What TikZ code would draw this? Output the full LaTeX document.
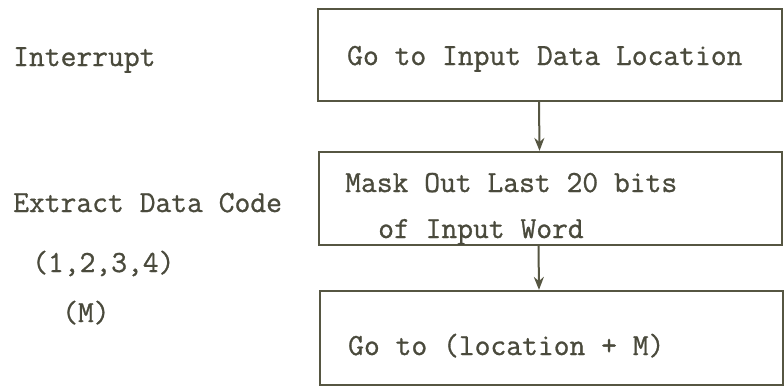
\documentclass[tikz,border=0pt]{standalone}
\usepackage{fontspec}
\setmonofont{Latin Modern Mono}[FakeBold=0.9]
\usetikzlibrary{arrows.meta}
\definecolor{ink}{RGB}{74,74,60}
\definecolor{rule}{RGB}{86,86,66}
\tikzset{
  txt/.style={anchor=base west, inner sep=0pt, text=ink, font=\ttfamily\fontsize{30.7}{34}\selectfont},
  box/.style={draw=rule, line width=2.2pt, rectangle, inner sep=0pt},
  flow/.style={draw=rule, line width=2pt, -{Stealth[length=13pt,width=10pt]}}
}
\begin{document}
\begin{tikzpicture}[x=1pt,y=-1pt]
  \useasboundingbox (0,0) rectangle (784,386);

  % left-hand annotations
  \node[txt] (int) at (13,66) {Interrupt};
  \node[txt] (ext) at (13,212) {Extract Data Code};
  \node[txt] (codes) at (32,272) {(1,2,3,4)};
  \node[txt] (m) at (62,322) {(M)};

  % flow boxes
  \node[box, minimum width=464pt, minimum height=92pt] (b1) at (550,55) {};
  \node[box, minimum width=463pt, minimum height=93pt] (b2) at (550.5,198.5) {};
  \node[box, minimum width=463pt, minimum height=94pt] (b3) at (551.5,338) {};

  % box texts
  \node[txt] (t1) at (347,65) {Go to Input Data Location};
  \node[txt] (t2a) at (345,192) {Mask Out Last 20 bits};
  \node[txt] (t2b) at (378,238) {of Input Word};
  \node[txt] (t3) at (348,355) {Go to (location + M)};

  % connectors
  \draw[flow] ([xshift=-11pt]b1.south) -- ([xshift=-11pt]b2.north);
  \draw[flow] ([xshift=-12pt]b2.south) -- ([xshift=-12.5pt]b3.north);
\end{tikzpicture}
\end{document}
